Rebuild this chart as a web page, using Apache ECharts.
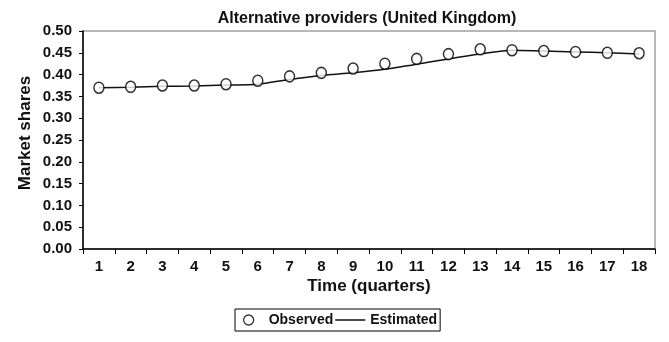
<!DOCTYPE html>
<html>
<head>
<meta charset="utf-8">
<script src="https://cdn.jsdelivr.net/npm/echarts@6/dist/echarts.min.js"></script>
<style>
  html, body { margin: 0; padding: 0; background: #fff; }
  #chart { width: 669px; height: 342px; }
</style>
</head>
<body>
<div id="chart"></div>
<script>
// Quarters on the horizontal axis
const quarters = ['1','2','3','4','5','6','7','8','9','10','11','12','13','14','15','16','17','18'];
// Observed market shares (circles)
const observed = [0.370, 0.372, 0.375, 0.375, 0.378, 0.386, 0.396, 0.404, 0.414, 0.425, 0.436, 0.447, 0.458, 0.456, 0.454, 0.452, 0.450, 0.449];
// Model estimate (solid line)
const estimated = [0.370, 0.371, 0.373, 0.374, 0.376, 0.378, 0.389, 0.398, 0.404, 0.412, 0.424, 0.436, 0.447, 0.456, 0.454, 0.452, 0.450, 0.447];

const FONT = '"Liberation Sans", Arial, sans-serif';

// Legend key for the solid line: a thin bar centred in a 30x10 box
const LINE_KEY = 'path://M0,0L0.01,0M0,4.3L30,4.3L30,5.7L0,5.7ZM0,10L0.01,10';

const chart = echarts.init(document.getElementById('chart'), null, { renderer: 'canvas' });
chart.setOption({
  animation: false,
  backgroundColor: '#fff',
  title: {
    text: 'Alternative providers (United Kingdom)',
    left: 362, top: 6, textAlign: 'center',
    textStyle: { fontFamily: FONT, fontWeight: 'bold', fontSize: 16, color: '#111' }
  },
  legend: {
    left: 235, top: 309,
    orient: 'horizontal',
    borderColor: '#000', borderWidth: 1, borderRadius: 0,
    padding: [4, 3, 4, 8],
    itemGap: 2,
    itemWidth: 30, itemHeight: 10,
    textStyle: { fontFamily: FONT, fontWeight: 'bold', fontSize: 14, color: '#111' },
    data: [
      { name: 'Observed', itemStyle: { color: '#fff', borderColor: '#000', borderWidth: 1.3 } },
      { name: 'Estimated', icon: LINE_KEY, itemStyle: { color: '#111', borderWidth: 0 } }
    ]
  },
  grid: {
    left: 83, right: 14, top: 31, bottom: 93,
    show: true, borderColor: '#a0a0a0', borderWidth: 1.5
  },
  xAxis: {
    type: 'category',
    data: quarters,
    boundaryGap: true,
    name: 'Time (quarters)',
    nameLocation: 'middle',
    nameGap: 29,
    nameMoveOverlap: false,
    nameTextStyle: { fontFamily: FONT, fontWeight: 'bold', fontSize: 17, color: '#111' },
    axisLine: { lineStyle: { color: '#000', width: 1.5 } },
    axisTick: { show: true, alignWithLabel: false, length: 5, lineStyle: { color: '#000', width: 1 } },
    axisLabel: { margin: 10, fontFamily: FONT, fontWeight: 'bold', fontSize: 15, color: '#111' },
    splitLine: { show: false }
  },
  yAxis: {
    type: 'value',
    min: 0, max: 0.5, interval: 0.05,
    name: 'Market shares',
    nameLocation: 'middle',
    nameGap: 49,
    nameMoveOverlap: false,
    nameTextStyle: { fontFamily: FONT, fontWeight: 'bold', fontSize: 17, color: '#111', padding: [0, 0, 0, 14] },
    axisLine: { show: true, lineStyle: { color: '#000', width: 1.5 } },
    axisTick: { show: true, length: 4, lineStyle: { color: '#000', width: 1 } },
    axisLabel: {
      margin: 11, fontFamily: FONT, fontWeight: 'bold', fontSize: 15, color: '#111',
      formatter: v => v.toFixed(2)
    },
    splitLine: { show: false }
  },
  series: [
    {
      name: 'Estimated',
      type: 'line',
      data: estimated,
      symbol: 'none',
      smooth: 0.3,
      lineStyle: { color: '#111', width: 1.5 },
      itemStyle: { color: '#111' },
      z: 2
    },
    {
      name: 'Observed',
      type: 'scatter',
      data: observed,
      symbol: 'circle',
      symbolSize: [10, 11],
      itemStyle: { color: '#fff', borderColor: '#000', borderWidth: 1.5 },
      z: 3
    }
  ]
});
</script>
</body>
</html>
